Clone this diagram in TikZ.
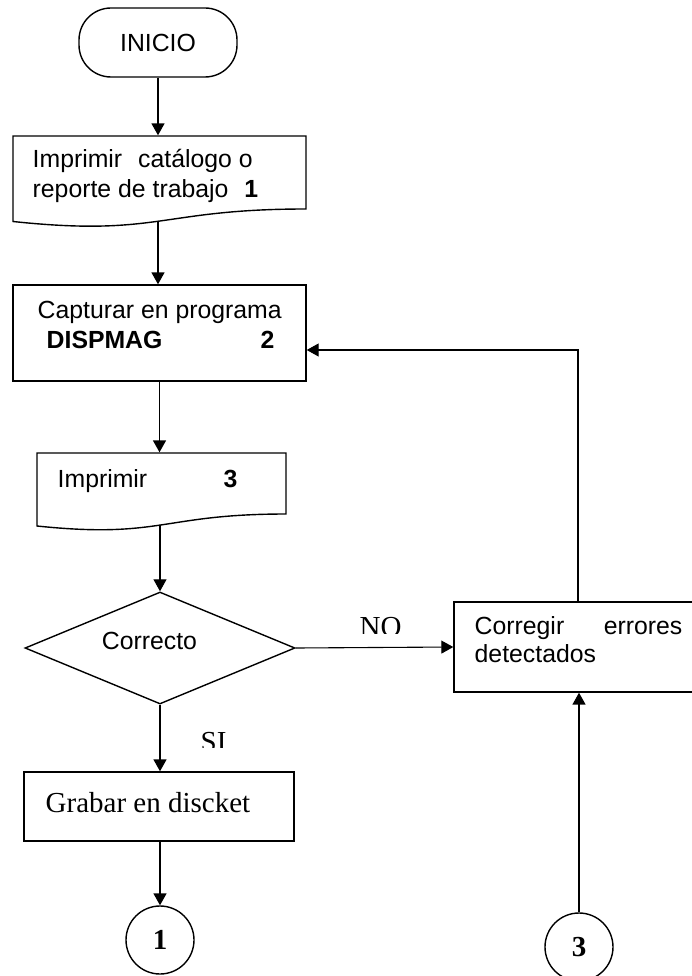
\documentclass[tikz,border=0pt]{standalone}
\usepackage{fontspec}
\setmainfont{Liberation Serif}
\setsansfont{Liberation Sans}
\usetikzlibrary{arrows.meta,shapes.geometric}
\begin{document}
\begin{tikzpicture}[x=1pt,y=-1pt,
  line width=1.4pt,
  sf/.style={font=\fontsize{24.8}{28.5}\selectfont\sffamily, inner sep=0pt},
  rm/.style={font=\fontsize{29}{33}\selectfont\rmfamily, inner sep=0pt},
  shp/.style={draw, inner sep=0pt},
  arr/.style={line width=1.6pt, -{Triangle[length=12pt,width=13pt]}},
  thinarr/.style={line width=1.1pt, -{Triangle[length=12pt,width=13pt]}}]
\useasboundingbox (0,0) rectangle (692,976);
\clip (0,0) rectangle (692,976);

% INICIO
\node[shp, sf, rounded corners=32pt, minimum width=158pt, minimum height=69pt] (ini) at (158,42.5) {INICIO};

% Document 1
\node[inner sep=0pt, minimum width=293pt, minimum height=91pt] (d1) at (159.5,181.5) {};
\draw (13,136) -- (306,136) -- (306,209) .. controls (159.5,209) and (159.5,237) .. (13,221.5) -- cycle;
\coordinate (d1b) at (158,221);
\node[sf, anchor=base west] (t1a) at (32,168) {Imprimir\hspace{16pt}catálogo o};
\node[sf, anchor=base west] (t1b) at (32,198) {reporte de trabajo\hspace{16pt}\textbf{1}};

% Box 2
\node[shp, minimum width=293pt, minimum height=96pt] (b2) at (159.5,333) {};
\node[sf, anchor=base west] (t2a) at (37,318) {Capturar en programa};
\node[sf, anchor=base west] (t2b) at (46,348) {\bfseries DISPMAG};
\node[sf, anchor=base west] (t2c) at (260,348) {\bfseries 2};

% Document 3
\node[inner sep=0pt, minimum width=249pt, minimum height=76pt] (d3) at (161.5,491) {};
\draw (37,453) -- (286,453) -- (286,514) .. controls (161.5,514) and (161.5,539) .. (37,526) -- cycle;
\coordinate (d3b) at (160,525);
\node[sf, anchor=base west] (t3a) at (57,487) {Imprimir};
\node[sf, anchor=base west] (t3b) at (223,487) {\bfseries 3};

% Decision
\node[shp, diamond, minimum width=270pt, minimum height=112pt] (dia) at (160,648) {};
\node[sf, anchor=base] (tdia) at (149.5,649) {Correcto};

% Corregir box
\node[shp, minimum width=246pt, minimum height=90pt] (corr) at (577,647) {};
\node[sf, anchor=base west] (tc1) at (474,634) {Corregir};
\node[sf, anchor=base east] (tc2) at (683,634) {errores};
\node[sf, anchor=base west] (tc3) at (474,662) {detectados};

% Grabar box
\node[shp, minimum width=270pt, minimum height=69pt] (grab) at (159,806.5) {};
\node[rm, anchor=base west] (tg) at (45,812) {Grabar en discket};

% Connectors (circles)
\node[shp, circle, minimum size=68pt, rm] (c1) at (160,940) {\textbf{1}};
\node[shp, circle, minimum size=68pt, rm] (c3) at (579,947) {\textbf{3}};

% Labels (bottom cut off as in the reference)
\begin{scope}
  \clip (340,600) rectangle (430,633);
  \node[rm, anchor=base west] (lno) at (359,636) {NO};
\end{scope}
\begin{scope}
  \clip (190,715) rectangle (260,747);
  \node[rm, anchor=base west] (lsi) at (200,751) {SI};
\end{scope}

% Arrows
\draw[arr] (ini.south) -- (ini.south |- d1.north);
\draw[arr] (d1b) -- (d1b |- b2.north);
\draw[arr] (b2.south) -- (b2.south |- d3.north);
\draw[thinarr] (d3b) -- (dia.north);
\draw[thinarr] (dia.east) -- (corr.west);
\draw[arr] (dia.south) -- (dia.south |- grab.north);
\draw[arr] (grab.south -| c1.north) -- (c1.north);
\draw[arr] (c3.north) -- (c3.north |- corr.south);
\coordinate (fb) at (578,350);
\draw[thinarr] (fb |- corr.north) -- (fb) -- (fb -| b2.east);
\end{tikzpicture}
\end{document}
